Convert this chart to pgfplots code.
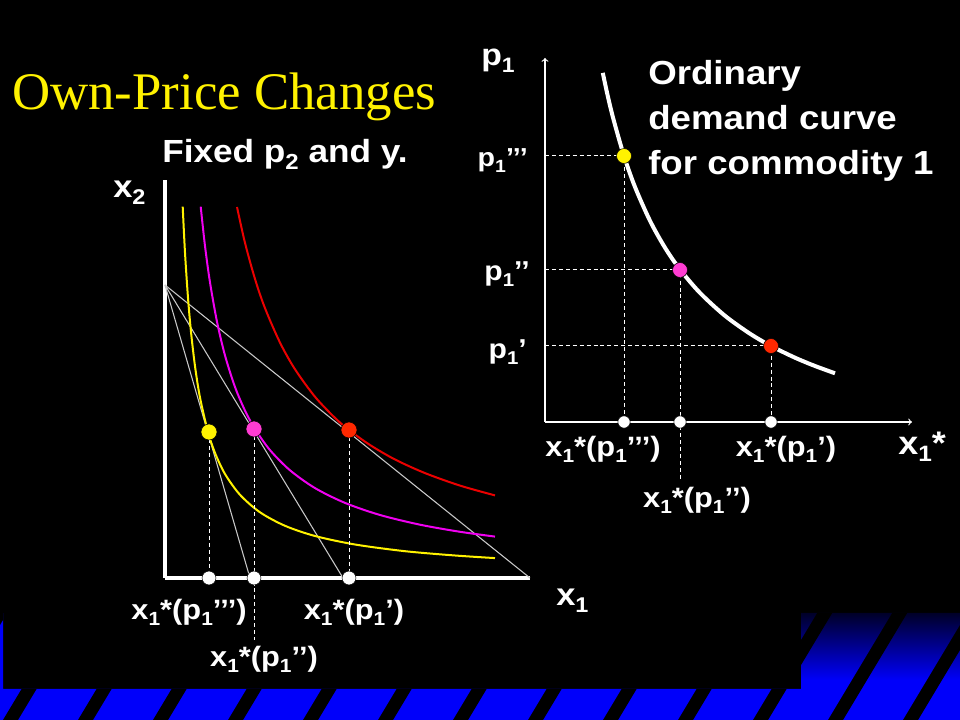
\documentclass[border=0pt]{standalone}
\usepackage{pgfplots}
\pgfplotsset{compat=1.18}
\usepackage{fontspec}
\usepackage{graphicx}
\setmainfont{Liberation Sans}[FakeStretch=1.1]
\newfontfamily\titlefont{Liberation Serif}
\newcommand\sub[1]{\raisebox{-0.2em}{\scalebox{0.68}{#1}}}
\newcommand\fs[1]{\fontsize{#1}{#1}\selectfont\bfseries}
\definecolor{slideblue}{RGB}{0,0,250}
\definecolor{dotmag}{RGB}{255,60,210}
\definecolor{dotred}{RGB}{255,40,0}
\definecolor{curvemag}{RGB}{240,0,240}
\definecolor{curvered}{RGB}{235,0,0}
\definecolor{budget}{RGB}{200,200,200}
\begin{document}
\begin{tikzpicture}[x=0.75pt,y=0.75pt]
\useasboundingbox (0,0) rectangle (960,720);
\fill[black] (0,0) rectangle (960,720);
% decoration
\begin{scope}
\clip (0,0) rectangle (960,31) (801,0) rectangle (960,107) (0,0) rectangle (3,107);
\fill[slideblue] (0,0) rectangle (960,107);
\shade[top color={rgb,255:red,0;green,0;blue,40}, bottom color=slideblue] (801,40) rectangle (960,107);
\foreach \k in {-2,...,13} {
  \fill[black] ({3+75*\k},0) -- ({18+75*\k},0) -- ({82.2+75*\k},107) -- ({67.2+75*\k},107) -- cycle;
}
\end{scope}

% left diagram
\begin{axis}[at={(165,142)}, anchor=south west, scale only axis,
  width=273.75pt, height=298.5pt, xmin=0, xmax=365, ymin=0, ymax=398,
  axis lines=left, axis line style={white, line width=2.4pt, -},
  ticks=none, clip=false]
\addplot[budget, line width=0.8pt] coordinates {(0,293) (85,0)};
\addplot[budget, line width=0.8pt] coordinates {(0,293) (178,0)};
\addplot[budget, line width=0.8pt] coordinates {(0,293) (365,0)};
\addplot[yellow, line width=1.5pt, smooth] coordinates {
(17.7,371.3) (20,325.3) (23,280.2) (26,246.1) (30,211.8) (35,180.4) (43,146.0)
(50,125.1) (60,104.0) (75,83.2) (95,65.7) (120,52.2) (150,42.0) (190,33.5)
(240,26.8) (290,22.5) (330,19.9)};
\addplot[curvemag, line width=1.5pt, smooth] coordinates {
(35.7,371.3) (40,332.0) (45,295.6) (52,256.3) (60,222.5) (70,191.0) (80,167.4)
(90,149.0) (105,127.9) (125,107.7) (150,89.9) (180,75.1) (215,63.0) (255,53.3)
(295,46.2) (330,41.4)};
\addplot[curvered, line width=1.5pt, smooth] coordinates {
(72,371.0) (80,335.1) (90,299.0) (100,269.8) (115,235.4) (130,208.7) (150,181.2)
(170,160.1) (184,148.0) (205,133.0) (230,118.5) (260,104.9) (295,92.4) (330,82.6)};
\addplot[white, line width=0.75pt, dash pattern=on 3pt off 2.2pt] coordinates {(44,146) (44,0)};
\addplot[white, line width=0.75pt, dash pattern=on 3pt off 2.2pt] coordinates {(89,149) (89,-62)};
\addplot[white, line width=0.75pt, dash pattern=on 3pt off 2.2pt] coordinates {(184,148) (184,0)};
\addplot[only marks, mark=*, mark size=6pt, mark options={draw=none, fill=yellow}] coordinates {(44,146)};
\addplot[only marks, mark=*, mark size=6pt, mark options={draw=none, fill=dotmag}] coordinates {(89,149)};
\addplot[only marks, mark=*, mark size=6pt, mark options={draw=none, fill=dotred}] coordinates {(184,148)};
\addplot[only marks, mark=*, mark size=5.2pt, mark options={draw=none, fill=white}] coordinates {(44,0) (89,0) (184,0)};
\end{axis}

% right diagram
\begin{axis}[at={(545,298)}, anchor=south west, scale only axis,
  width=275.25pt, height=273pt, xmin=0, xmax=367, ymin=0, ymax=364,
  axis lines=left, axis line style={white, line width=0.9pt, ->},
  ticks=none, clip=false]
\addplot[white, line width=0.75pt, dash pattern=on 3pt off 2.2pt] coordinates {(0,266) (79,266) (79,0)};
\addplot[white, line width=0.75pt, dash pattern=on 3pt off 2.2pt] coordinates {(0,152) (135,152) (135,-58)};
\addplot[white, line width=0.75pt, dash pattern=on 3pt off 2.2pt] coordinates {(0,76) (226,76) (226,0)};
\addplot[white, line width=3pt, smooth] coordinates {
(57.8,349.1) (62,329.4) (68,304.4) (79,266.0) (90,235.0) (105,201.2) (120,174.3)
(135,152.5) (155,129.1) (180,106.2) (205,88.3) (226,76.0) (250,64.3) (270,56.0) (290,48.7)};
\addplot[only marks, mark=*, mark size=5.6pt, mark options={draw=none, fill=yellow}] coordinates {(79,266)};
\addplot[only marks, mark=*, mark size=5.6pt, mark options={draw=none, fill=dotmag}] coordinates {(135,152)};
\addplot[only marks, mark=*, mark size=5.6pt, mark options={draw=none, fill=dotred}] coordinates {(226,76)};
\addplot[only marks, mark=*, mark size=4.6pt, mark options={draw=none, fill=white}] coordinates {(79,0) (135,0) (226,0)};
\end{axis}

% texts
\node[anchor=base west, inner sep=0, text=yellow] at (12,610) {\titlefont\fontsize{39.6}{39.6}\selectfont Own-Price Changes};
\begin{scope}[every node/.style={text=white, inner sep=0}]
\node[anchor=base west] at (162,557) {\fs{24}Fixed p\sub{2} and y.};
\node[anchor=base west] at (113,522) {\fs{23.5}x\sub{2}};
\node[anchor=base west] at (556,114) {\fs{23.5}x\sub{1}};
\node[anchor=base] at (189,100) {\fs{21}x\sub{1}*(p\sub{1}’’’)};
\node[anchor=base] at (354,100) {\fs{21}x\sub{1}*(p\sub{1}’)};
\node[anchor=base] at (264,53) {\fs{21}x\sub{1}*(p\sub{1}’’)};
\node[anchor=base west] at (481,654) {\fs{23}p\sub{1}};
\node[anchor=base east] at (528,553) {\fs{19.5}p\sub{1}’’’};
\node[anchor=base east] at (530,439) {\fs{20.5}p\sub{1}’’};
\node[anchor=base east] at (527,361) {\fs{20.5}p\sub{1}’};
\node[anchor=base] at (603,263) {\fs{21}x\sub{1}*(p\sub{1}’’’)};
\node[anchor=base] at (786,263) {\fs{21}x\sub{1}*(p\sub{1}’)};
\node[anchor=base] at (697,212) {\fs{21}x\sub{1}*(p\sub{1}’’)};
\node[anchor=base west] at (898,265) {\fs{24.5}x\sub{1}*};
\node[anchor=base west] at (648,635) {\fs{25}Ordinary};
\node[anchor=base west] at (648,590) {\fs{25}demand curve};
\node[anchor=base west] at (648,545) {\fs{25}for commodity 1};
\end{scope}
\end{tikzpicture}
\end{document}
